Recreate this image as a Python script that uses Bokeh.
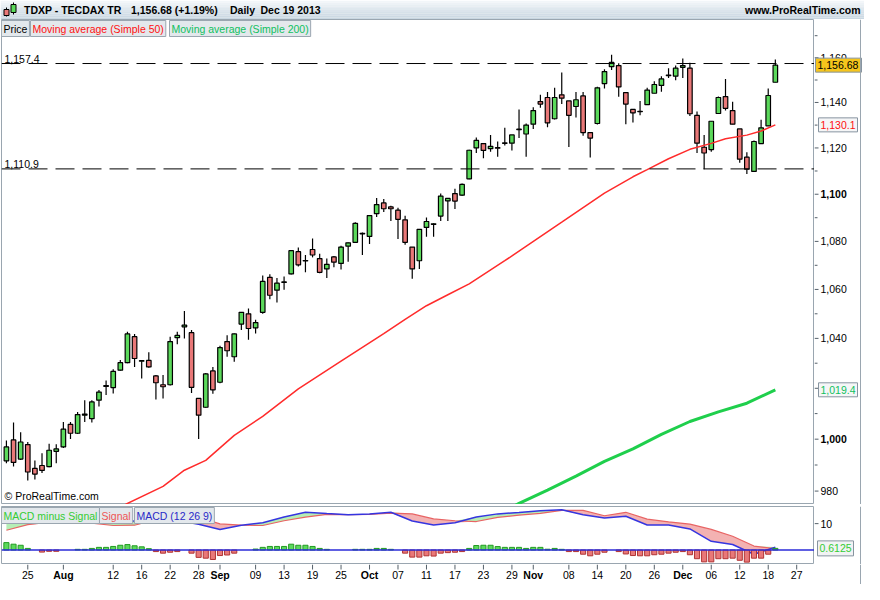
import numpy as np
from bokeh.plotting import figure
from bokeh.models import Range1d, Span, Label, ColumnDataSource
from bokeh.layouts import column, row
from bokeh.embed import file_html
from bokeh.resources import INLINE
from bokeh.core.properties import value

FONT = "Liberation Sans"
FS = "10.5px"
GREEN_BODY = "#5bd95b"
RED_BODY = "#e97878"

# ---------------- data (TDXP daily, 22 Jul 2013 .. 19 Dec 2013, index = trading day) -------------
opens = [991.6, 999.7, 992.3, 997.9, 988.7, 989.8, 989.4, 995.3, 997.0, 1005.8,
         1002.3, 1009.4, 1008.0, 1015.3, 1020.7, 1020.3, 1027.2, 1030.2, 1040.7, 1030.8,
         1031.1, 1024.9, 1021.4, 1021.4, 1040.3, 1044.7, 1042.3, 1016.0, 1012.5, 1026.9,
         1022.4, 1038.7, 1032.6, 1045.8, 1050.0, 1044.3, 1050.6, 1065.0, 1059.7, 1062.9,
         1066.4, 1075.7, 1071.8, 1076.6, 1072.8, 1068.5, 1073.5, 1070.8, 1078.0, 1079.6,
         1083.2, 1082.1, 1091.7, 1096.3, 1094.6, 1093.2, 1089.1, 1077.6, 1071.9, 1085.9,
         1087.2, 1090.7, 1097.2, 1100.3, 1099.6, 1106.6, 1120.0, 1121.9, 1119.7, 1120.1,
         1122.0, 1122.1, 1128.0, 1126.1, 1130.4, 1140.4, 1142.2, 1132.8, 1143.4, 1140.7,
         1138.2, 1142.9, 1126.7, 1130.7, 1148.4, 1156.0, 1156.5, 1144.4, 1136.9, 1136.1,
         1139.0, 1144.1, 1147.6, 1152.0, 1151.7, 1155.7, 1155.3, 1134.3, 1120.3, 1119.3,
         1135.1, 1142.6, 1136.4, 1128.3, 1116.0, 1109.8, 1121.9, 1129.7, 1149.0]
highs = [999.5, 1006.5, 1002.7, 998.9, 991.7, 994.5, 998.2, 998.0, 1006.7, 1006.7,
         1010.6, 1015.3, 1015.3, 1019.3, 1023.1, 1027.6, 1031.3, 1042.7, 1041.8, 1031.1,
         1034.4, 1025.3, 1025.3, 1040.7, 1042.7, 1051.1, 1043.4, 1016.0, 1026.1, 1028.5,
         1037.0, 1041.3, 1042.0, 1050.6, 1052.2, 1047.6, 1065.8, 1066.3, 1064.7, 1065.4,
         1076.3, 1077.4, 1074.3, 1081.2, 1074.8, 1072.8, 1073.9, 1078.2, 1079.5, 1088.1,
         1083.7, 1090.9, 1098.4, 1098.0, 1095.1, 1094.2, 1090.8, 1077.6, 1085.1, 1090.1,
         1087.7, 1100.3, 1098.2, 1102.4, 1104.6, 1119.2, 1124.6, 1122.1, 1125.7, 1122.8,
         1128.8, 1125.7, 1136.9, 1130.7, 1137.9, 1143.4, 1144.7, 1146.5, 1153.4, 1140.7,
         1144.7, 1144.7, 1126.7, 1147.0, 1154.8, 1161.4, 1157.5, 1144.7, 1137.1, 1140.7,
         1146.5, 1149.5, 1151.7, 1155.3, 1156.5, 1159.7, 1157.8, 1136.0, 1125.7, 1131.7,
         1142.6, 1150.5, 1140.3, 1128.3, 1118.1, 1123.3, 1132.4, 1146.2, 1159.2]
lows = [990.7, 989.4, 991.9, 984.0, 984.4, 986.9, 989.1, 990.7, 996.6, 1000.1,
        1002.0, 1006.7, 1006.5, 1012.8, 1017.3, 1017.9, 1027.0, 1030.0, 1028.5, 1023.9,
        1028.2, 1015.6, 1016.0, 1021.1, 1037.6, 1040.0, 1018.1, 1000.1, 1012.3, 1017.8,
        1022.0, 1032.6, 1030.6, 1043.4, 1039.4, 1042.0, 1050.0, 1056.0, 1054.6, 1059.9,
        1066.2, 1069.5, 1067.1, 1073.3, 1066.7, 1064.7, 1069.2, 1068.3, 1071.5, 1079.3,
        1074.3, 1078.9, 1090.3, 1092.4, 1088.6, 1081.0, 1078.6, 1064.4, 1068.5, 1082.0,
        1082.0, 1088.6, 1088.6, 1093.7, 1099.3, 1106.4, 1117.8, 1115.5, 1118.3, 1116.2,
        1121.1, 1118.9, 1124.3, 1116.2, 1128.3, 1137.6, 1129.1, 1132.5, 1139.3, 1120.4,
        1133.4, 1125.3, 1115.8, 1130.3, 1146.2, 1154.5, 1142.5, 1130.4, 1131.1, 1134.3,
        1139.0, 1144.1, 1144.8, 1150.9, 1149.9, 1150.9, 1134.0, 1117.8, 1110.8, 1118.3,
        1134.9, 1136.4, 1130.4, 1113.6, 1108.7, 1109.8, 1121.9, 1129.7, 1149.0]
closes = [997.0, 991.0, 998.9, 987.3, 986.5, 987.9, 995.7, 996.2, 1003.9, 1002.3,
          1009.6, 1009.8, 1014.6, 1018.5, 1021.1, 1026.7, 1030.2, 1041.8, 1031.9, 1031.0,
          1028.5, 1022.2, 1020.6, 1038.7, 1041.2, 1045.4, 1020.4, 1009.4, 1025.7, 1019.4,
          1036.3, 1035.0, 1041.8, 1050.6, 1044.0, 1046.4, 1063.3, 1057.6, 1062.6, 1063.1,
          1076.1, 1070.2, 1072.0, 1074.3, 1067.1, 1070.4, 1071.3, 1077.6, 1079.4, 1087.6,
          1083.4, 1090.9, 1095.6, 1093.8, 1093.8, 1089.3, 1079.6, 1068.5, 1085.1, 1088.4,
          1087.4, 1099.2, 1098.2, 1097.1, 1104.2, 1119.0, 1123.3, 1118.9, 1120.7, 1119.9,
          1122.2, 1125.7, 1128.2, 1130.0, 1136.4, 1139.3, 1131.0, 1142.2, 1141.9, 1134.3,
          1141.2, 1126.7, 1124.3, 1146.5, 1153.8, 1157.9, 1146.9, 1139.3, 1135.4, 1135.9,
          1145.5, 1148.0, 1150.5, 1152.2, 1155.3, 1156.5, 1135.0, 1122.1, 1117.8, 1131.7,
          1142.2, 1137.4, 1130.4, 1115.1, 1110.8, 1122.8, 1128.8, 1143.1, 1156.68]

date_tick_idx = [3, 8, 15, 19, 23, 27, 30, 35, 39, 43, 47, 51, 55, 59, 63, 67, 71, 74,
                 79, 83, 87, 91, 95, 99, 103, 107, 111]
date_tick_lbl = ["25", "Aug", "12", "16", "22", "28", "Sep", "09", "13", "19", "25", "Oct",
                 "07", "11", "17", "23", "29", "Nov", "08", "14", "20", "26", "Dec", "06",
                 "12", "18", "27"]
month_names = ["Aug", "Sep", "Oct", "Nov", "Dec"]

price_ticks = [980, 1000, 1020, 1040, 1060, 1080, 1100, 1120, 1140, 1160]
price_minor_ticks = [990, 1010, 1030, 1050, 1070, 1090, 1110, 1130, 1150, 1170]
bold_price_ticks = [1000, 1100]

levels = [1157.4, 1110.9]
level_labels = ["1,157.4", "1,110.9"]

sma50_idx = [16, 17, 22, 25, 28, 32, 36, 41, 47, 53, 56, 59, 62, 65, 70, 78, 84, 88,
             90, 93, 96, 99, 101, 104, 106, 108]
sma50 = [973.8, 975.3, 981.8, 988.0, 991.8, 1001.5, 1008.9, 1019.8, 1030.8, 1041.9,
         1047.7, 1053.3, 1057.8, 1062.3, 1071.9, 1088.1, 1100.5, 1107.5, 1110.6, 1115.3,
         1119.4, 1122.0, 1124.0, 1125.6, 1127.4, 1130.1]
sma200_idx = [70, 72, 76, 80, 84, 88, 92, 96, 100, 104, 108]
sma200 = [972.5, 975.3, 980.4, 985.7, 991.4, 996.2, 1001.9, 1006.9, 1010.7, 1014.1, 1019.4]

macd_idx = [0, 3, 6, 9, 12, 15, 18, 21, 24, 27, 30, 33, 36, 39, 42, 45, 48, 51, 54,
            57, 60, 63, 66, 69, 72, 75, 78, 81, 84, 87, 90, 93, 96, 99, 102, 105, 108]
macd = [10.3, 10.2, 10.2, 10.3, 10.8, 10.6, 11.0, 11.0, 11.2, 9.8, 7.8, 9.4, 10.3,
        12.5, 14.3, 13.8, 13.4, 13.7, 14.3, 11.0, 9.5, 10.3, 12.5, 13.7, 14.2, 14.9,
        15.3, 13.4, 12.1, 12.8, 9.5, 9.5, 8.0, 3.3, 2.1, -1.6, 1.1]
signal = [7.5, 9.6, 10.6, 10.3, 10.2, 9.3, 9.4, 11.6, 11.8, 12.4, 9.9, 9.4, 9.3,
          11.1, 12.5, 13.5, 13.4, 13.5, 14.0, 13.7, 11.8, 11.1, 10.8, 12.4, 13.2, 13.9,
          15.0, 15.0, 13.0, 14.3, 11.7, 10.7, 9.8, 7.8, 5.2, 1.5, 0.5]
hist = [2.8, 2.2, 1.8, 0.6, 0.0, -0.8, -0.5, -0.5, 0.0, 0.0,
        0.25, 0.25, 0.6, 1.0, 1.0, 1.35, 1.8, 2.05, 1.6, 1.2, 0.5,
        -0.6, -1.2, -0.85, -0.6, 0.0, -1.2, -2.8, -3.1, -3.6, -2.1, -1.9, -1.2, 0.0, 0.0,
        0.35, 1.0, 1.35, 1.35, 1.35, 2.2, 1.8, 1.8, 1.35, 0.6, 0.25,
        0.0, 0.0, 0.0, 0.25, 0.25, 0.25, 0.6, 0.6, 0.25, 0.0,
        -1.2, -2.7, -2.7, -2.2, -2.3, -1.2, -1.0, -0.85, -0.6,
        0.6, 1.7, 1.8, 1.8, 1.3, 1.0, 1.0, 1.0, 0.6, 1.0, 1.0, 0.3, 0.6, 0.25,
        -0.6, -0.6, -1.6, -2.2, -1.6, -0.85, 0.0, -0.6, -1.5, -2.1, -2.2, -2.2, -1.8, -1.6,
        -1.2, -0.85, -0.6,
        -1.8, -3.3, -4.5, -4.5, -3.3, -3.3, -3.1, -3.9, -4.6, -3.1, -3.1, -1.6, 0.6125]
macd_ticks = [10]

last_price = 1156.68
last_price_txt = "1,156.68"
last_sma50_txt = "1,130.1"
last_sma200_txt = "1,019.4"
last_hist_txt = "0.6125"

# ---------------- layout constants -------------
W = 864
HEADER_H = 19
MAIN_H = 485
MACD_H = 60
STRIP_H = 20
RB = 50
LB = 1
MAIN_W = W - RB
AXIS_GRAY = "#9aa6b0"
TICK_GRAY = "#55606a"
EDGE_X = 46

xr = Range1d(-0.69, 113.5)


def bare(fig):
    fig.grid.visible = False
    fig.outline_line_color = None
    return fig


def lab(fig, text, x, y, xu="screen", yu="screen", color="black", bold=False, size=FS,
        align="left", baseline="middle", bg=None, border=None, pad=0, xo=0, yo=0):
    l = Label(x=x, y=y, x_units=xu, y_units=yu, text=text, text_color=color, text_font=FONT,
              text_font_size=size, text_font_style="bold" if bold else "normal",
              text_align=align, text_baseline=baseline, x_offset=xo, y_offset=yo)
    if bg is not None:
        l.background_fill_color = bg
    if border is not None:
        l.border_line_color = border
    if pad:
        l.padding = pad
    fig.add_layout(l)
    return l


# ---------------- header -------------
hdr = bare(figure(width=W, height=HEADER_H, x_range=Range1d(0, W), y_range=Range1d(0, HEADER_H),
                  output_backend="svg", toolbar_location=None, min_border=0,
                  x_axis_location=None, y_axis_location=None))
top_c = np.array([0xf2, 0xf6, 0xf9])
bot_c = np.array([0xc9, 0xd7, 0xe2])
nb = 10
for i in range(nb):
    t = i / (nb - 1)
    cc = (top_c * (1 - t) + bot_c * t).astype(int)
    hdr.quad(left=0, right=W, top=HEADER_H - i * HEADER_H / nb,
             bottom=HEADER_H - (i + 1) * HEADER_H / nb,
             fill_color="#%02x%02x%02x" % tuple(cc), line_color=None)
hdr.segment(x0=[6, 13], y0=[3, 5], x1=[6, 13], y1=[12, 17], line_color="black", line_width=1)
hdr.quad(left=[3.5, 10.5], right=[8.5, 15.5], bottom=[4, 7], top=[10, 15],
         fill_color=[RED_BODY, GREEN_BODY], line_color="black", line_width=1)
hdr.text(x=[23.5, 130.5, 229.5, 260], y=[9.5] * 4,
         text=["TDXP - TECDAX TR", "1,156.68 (+1.19%)", "Daily", "Dec 19 2013"],
         text_font=value(FONT), text_font_style="bold", text_font_size=FS,
         text_baseline="middle", text_color="black")
hdr.text(x=[W - 4], y=[9.5], text=["www.ProRealTime.com"], text_font=value(FONT),
         text_font_style="bold", text_font_size=FS, text_baseline="middle",
         text_align="right", text_color="black")

# ---------------- main price chart -------------
p = figure(width=MAIN_W, height=MAIN_H, x_range=xr, y_range=Range1d(974.9, 1177.4),
           y_axis_type="log", x_axis_location=None, y_axis_location=None,
           output_backend="svg", toolbar_location=None,
           min_border_left=LB, min_border_right=0, min_border_top=0, min_border_bottom=0)
p.grid.visible = False
p.outline_line_color = AXIS_GRAY

o = np.array(opens)
c = np.array(closes)
idx = np.arange(len(c))
up = c >= o
src = ColumnDataSource(dict(x=idx, top=np.maximum(o, c), bottom=np.minimum(o, c),
                            high=highs, low=lows,
                            color=np.where(up, GREEN_BODY, RED_BODY)))
p.segment(x0="x", y0="low", x1="x", y1="high", source=src, line_color="black", line_width=1.2)
p.vbar(x="x", width=0.64, top="top", bottom="bottom", fill_color="color",
       line_color="black", line_width=1.2, source=src)

p.line(sma200_idx, sma200, line_color="#1fcf4c", line_width=3)
p.line(sma50_idx, sma50, line_color="#ff2b2b", line_width=1.5)

for lv, txt in zip(levels, level_labels):
    p.add_layout(Span(location=lv, dimension="width", line_color="black", line_width=1,
                      line_dash="19 8"))
    lab(p, txt, 3, lv, yu="data", baseline="bottom", yo=1)

LEG_BG = "#e3e8ec"
LEG_BD = "#9aa6b0"
lab(p, "Price", 0, MAIN_H - 1, baseline="top", bg=LEG_BG, border=LEG_BD, pad=2)
lab(p, "Moving average (Simple 50)", 29, MAIN_H - 1, baseline="top", color="#ff1010",
    bg=LEG_BG, border=LEG_BD, pad=2)
lab(p, "Moving average (Simple 200)", 168, MAIN_H - 1, baseline="top", color="#10c060",
    bg=LEG_BG, border=LEG_BD, pad=2)
lab(p, "\u00a9 ProRealTime.com", 3, 3, baseline="bottom", size="10.5px")

# ---------------- price scale (right side) -------------
ps = bare(figure(width=RB, height=MAIN_H, x_range=Range1d(0, RB), y_range=p.y_range,
                 y_axis_type="log", x_axis_location=None, y_axis_location=None,
                 output_backend="svg", toolbar_location=None, min_border=0))
ps.segment(x0=0, x1=4, y0=price_ticks, y1=price_ticks, line_color=TICK_GRAY, line_width=1)
ps.segment(x0=0, x1=3, y0=price_minor_ticks, y1=price_minor_ticks, line_color=TICK_GRAY,
           line_width=1)
norm_t = [t for t in price_ticks if t not in bold_price_ticks]
ps.text(x=6, y=norm_t, text=["{:,}".format(t) for t in norm_t], text_font=value(FONT),
        text_font_size=FS, text_baseline="middle", text_color="black")
ps.text(x=6, y=bold_price_ticks, text=["{:,}".format(t) for t in bold_price_ticks],
        text_font=value(FONT), text_font_size=FS, text_font_style="bold",
        text_baseline="middle", text_color="black")
badges = [(last_price, last_price_txt, 1, 46, "#f6c51c", "black"),
          (sma50[-1], last_sma50_txt, 4, 39, "#f5f6f7", "#ff1010"),
          (sma200[-1], last_sma200_txt, 4, 39, "#f5f6f7", "#10c060")]
for yv, txt, x0, wd, bgc, tc in badges:
    ps.rect(x=x0 + wd / 2, y=yv, width=wd, height=14, height_units="screen",
            fill_color=bgc, line_color="#8794a0", line_width=1)
    ps.text(x=x0 + 2, y=yv, text=[txt], text_font=value(FONT), text_font_size=FS,
            text_baseline="middle", text_color=tc)
ps.add_layout(Span(location=EDGE_X, dimension="height", line_color=AXIS_GRAY, line_width=1))

# ---------------- MACD panel -------------
m = figure(width=MAIN_W, height=MACD_H, x_range=xr, y_range=Range1d(-5.5, 16.5),
           x_axis_location=None, y_axis_location=None, output_backend="svg",
           toolbar_location=None, min_border_left=LB, min_border_right=0, min_border_top=2,
           min_border_bottom=0)
m.grid.visible = False
m.outline_line_color = AXIS_GRAY

macd_a = np.array(macd)
sig_a = np.array(signal)
m.varea(x=macd_idx, y1=sig_a, y2=np.maximum(macd_a, sig_a), fill_color="#b5eeb5")
m.varea(x=macd_idx, y1=np.minimum(macd_a, sig_a), y2=sig_a, fill_color="#f3b2b2")
m.line(macd_idx, signal, line_color="#e86464", line_width=1.2)
m.line(macd_idx, macd, line_color="#3535e0", line_width=1.5)

h = np.array(hist)
hi = np.arange(len(h))
nz = h != 0
hsrc = ColumnDataSource(dict(x=hi[nz], top=h[nz],
                             fill=np.where(h[nz] > 0, GREEN_BODY, RED_BODY),
                             line=np.where(h[nz] > 0, "#239a23", "#b03434")))
m.vbar(x="x", width=0.72, top="top", bottom=0, fill_color="fill", line_color="line",
       line_width=1, source=hsrc)
m.add_layout(Span(location=0, dimension="width", line_color="#2b2bd8", line_width=1.5))

lab(m, "MACD minus Signal", 0, 57, baseline="top", color="#33cc33", bg=LEG_BG,
    border=LEG_BD, pad=2)
lab(m, "Signal", 98, 57, baseline="top", color="#ee5555", bg=LEG_BG, border=LEG_BD, pad=2)
lab(m, "MACD (12 26 9)", 133, 57, baseline="top", color="#2a2ac8", bg=LEG_BG,
    border=LEG_BD, pad=2)

ms = bare(figure(width=RB, height=MACD_H, x_range=Range1d(0, RB), y_range=m.y_range,
                 x_axis_location=None, y_axis_location=None, output_backend="svg",
                 toolbar_location=None, min_border=0, min_border_top=2))
ms.segment(x0=0, x1=4, y0=macd_ticks, y1=macd_ticks, line_color=TICK_GRAY, line_width=1)
ms.text(x=6, y=macd_ticks, text=[str(t) for t in macd_ticks], text_font=value(FONT),
        text_font_size=FS, text_baseline="middle", text_color="black")
ms.rect(x=3 + 18, y=hist[-1], width=36, height=15, height_units="screen",
        fill_color="#f2f3f4", line_color="#8794a0", line_width=1)
ms.text(x=5, y=hist[-1], text=[last_hist_txt], text_font=value(FONT), text_font_size=FS,
        text_baseline="middle", text_color="#33cc33")
ms.add_layout(Span(location=EDGE_X, dimension="height", line_color=AXIS_GRAY, line_width=1))

# ---------------- date scale (bottom) -------------
st = bare(figure(width=MAIN_W, height=STRIP_H, x_range=xr, y_range=Range1d(0, STRIP_H),
                 x_axis_location=None, y_axis_location=None, output_backend="svg",
                 toolbar_location=None, min_border_left=LB, min_border_right=0,
                 min_border_top=0, min_border_bottom=0))
st.segment(x0=date_tick_idx, x1=date_tick_idx, y0=STRIP_H, y1=STRIP_H - 5,
           line_color=TICK_GRAY, line_width=1)
day_i = [i for i, s in zip(date_tick_idx, date_tick_lbl) if s not in month_names]
day_s = [s for s in date_tick_lbl if s not in month_names]
mon_i = [i for i, s in zip(date_tick_idx, date_tick_lbl) if s in month_names]
mon_s = [s for s in date_tick_lbl if s in month_names]
st.text(x=day_i, y=STRIP_H - 10.5, text=day_s, text_font=value(FONT), text_font_size=FS,
        text_align="center", text_baseline="middle", text_color="black")
st.text(x=mon_i, y=STRIP_H - 10.5, text=mon_s, text_font=value(FONT), text_font_size=FS,
        text_font_style="bold", text_align="center", text_baseline="middle",
        text_color="black")
ss = bare(figure(width=RB, height=STRIP_H, x_range=Range1d(0, RB), y_range=Range1d(0, STRIP_H),
                 x_axis_location=None, y_axis_location=None, output_backend="svg",
                 toolbar_location=None, min_border=0))
ss.add_layout(Span(location=EDGE_X, dimension="height", line_color=AXIS_GRAY, line_width=1))

layout = column(hdr, row(p, ps, spacing=0), row(m, ms, spacing=0), row(st, ss, spacing=0),
                spacing=0)
open("out.html", "w").write(file_html(layout, INLINE, title="TDXP - TECDAX TR"))
